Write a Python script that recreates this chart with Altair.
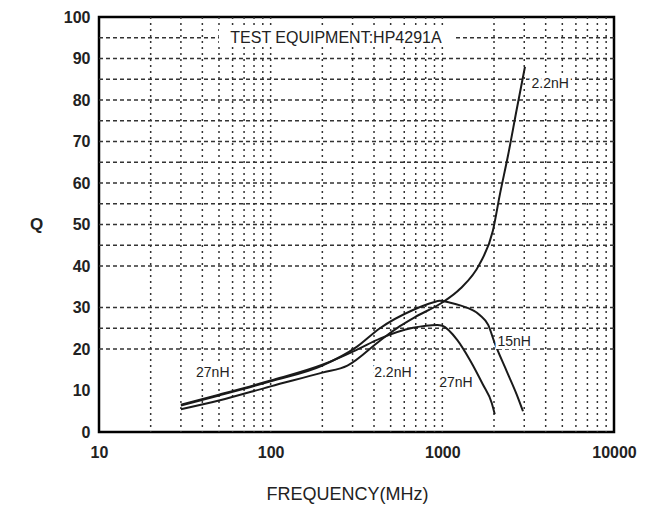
import altair as alt
import pandas as pd

# ---- data ----
f_22 = [30, 50, 100, 200, 280, 433, 566, 700, 1000, 1270, 1650, 1970, 2170, 2410, 2720, 3030]
q_22 = [5.5, 7.6, 11.0, 14.3, 16.0, 22.0, 25.5, 27.8, 31.2, 34.5, 40.5, 48.5, 57.5, 66.5, 78.0, 88.0]

f_15 = [30, 50, 100, 200, 317, 433, 675, 880, 966, 1100, 1270, 1650, 1850, 2020, 2380, 2720, 2950]
q_15 = [6.4, 8.8, 12.2, 16.0, 20.5, 25.0, 29.4, 31.2, 31.6, 31.2, 30.5, 28.2, 25.8, 21.4, 14.5, 8.9, 5.0]

f_27 = [30, 50, 100, 200, 317, 433, 675, 934, 1000, 1220, 1450, 1720, 1940, 2020]
q_27 = [6.6, 9.0, 12.4, 16.2, 19.8, 22.5, 25.1, 25.8, 25.6, 22.2, 17.3, 11.5, 7.0, 4.3]

label_text = ["2.2nH", "15nH", "27nH", "2.2nH", "27nH"]
label_f = [4250, 2620, 46, 515, 1200]
label_q = [83.9, 21.7, 14.2, 14.2, 11.8]

x_ticks = [10, 100, 1000, 10000]
y_ticks = [0, 10, 20, 30, 40, 50, 60, 70, 80, 90, 100]
v_grid = [20, 30, 40, 50, 60, 70, 80, 90, 100,
          200, 300, 400, 500, 600, 700, 800, 900, 1000,
          2000, 3000, 4000, 5000, 6000, 7000, 8000, 9000]
h_grid = [20, 25, 30, 40, 45, 50, 55, 60, 65, 70, 75, 80, 85, 90, 95]

note_text = ["TEST EQUIPMENT:HP4291A"]
note_f = [240]
note_q = [95]
note_box_f = [50, 1170]
note_box_q = [93.4, 97.6]

# ---- tables ----
curves = pd.concat([
    pd.DataFrame({"f": f_22, "q": q_22, "s": "2.2nH"}),
    pd.DataFrame({"f": f_15, "q": q_15, "s": "15nH"}),
    pd.DataFrame({"f": f_27, "q": q_27, "s": "27nH"}),
], ignore_index=True)
labels = pd.DataFrame({"f": label_f, "q": label_q, "t": label_text})
vg = pd.DataFrame({"f": v_grid})
hg = pd.DataFrame({"q": h_grid})
note = pd.DataFrame({"f": note_f, "q": note_q, "t": note_text})
box = pd.DataFrame({"f": [note_box_f[0]], "f2": [note_box_f[1]],
                    "q": [note_box_q[0]], "q2": [note_box_q[1]]})

FONT = "Liberation Sans"
INK = "#1a1a1a"

xs = alt.Scale(type="log", domain=[10, 10000])
ys = alt.Scale(domain=[0, 100], nice=False)

xaxis = alt.Axis(values=x_ticks, format="d", grid=False, ticks=False, domain=False,
                 labelFont=FONT, labelFontSize=16, labelFontWeight="bold", labelColor="#222",
                 labelPadding=12, labelFlush=False,
                 title="FREQUENCY(MHz)", titleFont=FONT, titleFontSize=18,
                 titleFontWeight="normal", titleColor="#222", titleX=248, titleY=62,
                 titleAlign="center", titleBaseline="middle", titleAnchor="start")
yaxis = alt.Axis(values=y_ticks, grid=False, ticks=False, domain=False,
                 labelFont=FONT, labelFontSize=16, labelFontWeight="bold", labelColor="#222",
                 labelPadding=9,
                 title="Q", titleFont=FONT, titleFontSize=17, titleFontWeight="bold",
                 titleColor="#222", titleAngle=0, titleX=-63, titleY=207,
                 titleAlign="center", titleBaseline="middle")

X = lambda fld: alt.X(f"{fld}:Q", scale=xs, axis=xaxis)
Y = lambda fld: alt.Y(f"{fld}:Q", scale=ys, axis=yaxis)

vrules = alt.Chart(vg).mark_rule(color="#333", strokeWidth=1.5, strokeDash=[2, 4]).encode(x=X("f"))
hrules = alt.Chart(hg).mark_rule(color="#333", strokeWidth=1.5, strokeDash=[4, 3]).encode(y=Y("q"))

boxes = alt.Chart(box).mark_rect(color="white").encode(
    x=X("f"), x2="f2:Q", y=Y("q"), y2="q2:Q")
note_txt = alt.Chart(note).mark_text(font=FONT, fontSize=16, color="#222",
                                      align="center", baseline="middle").encode(
    x=X("f"), y=Y("q"), text="t:N")

lines = alt.Chart(curves).mark_line(color=INK, strokeWidth=2, interpolate="monotone").encode(
    x=X("f"), y=Y("q"), detail="s:N")

halo = alt.Chart(labels).mark_text(font=FONT, fontSize=14, color="white", stroke="white",
                                   strokeWidth=6, align="center", baseline="middle").encode(
    x=X("f"), y=Y("q"), text="t:N")
ltxt = alt.Chart(labels).mark_text(font=FONT, fontSize=14, color="#222",
                                   align="center", baseline="middle").encode(
    x=X("f"), y=Y("q"), text="t:N")

chart = alt.layer(vrules, hrules, boxes, note_txt, lines, halo, ltxt).properties(
    width=515, height=415,
    autosize=alt.AutoSizeParams(type="none"),
    padding={"left": 91, "top": 9, "right": 25, "bottom": 72},
    background="white",
).configure_view(stroke="black", strokeWidth=2.5)

chart.save("out.html", embed_options={"renderer": "svg", "actions": False})
